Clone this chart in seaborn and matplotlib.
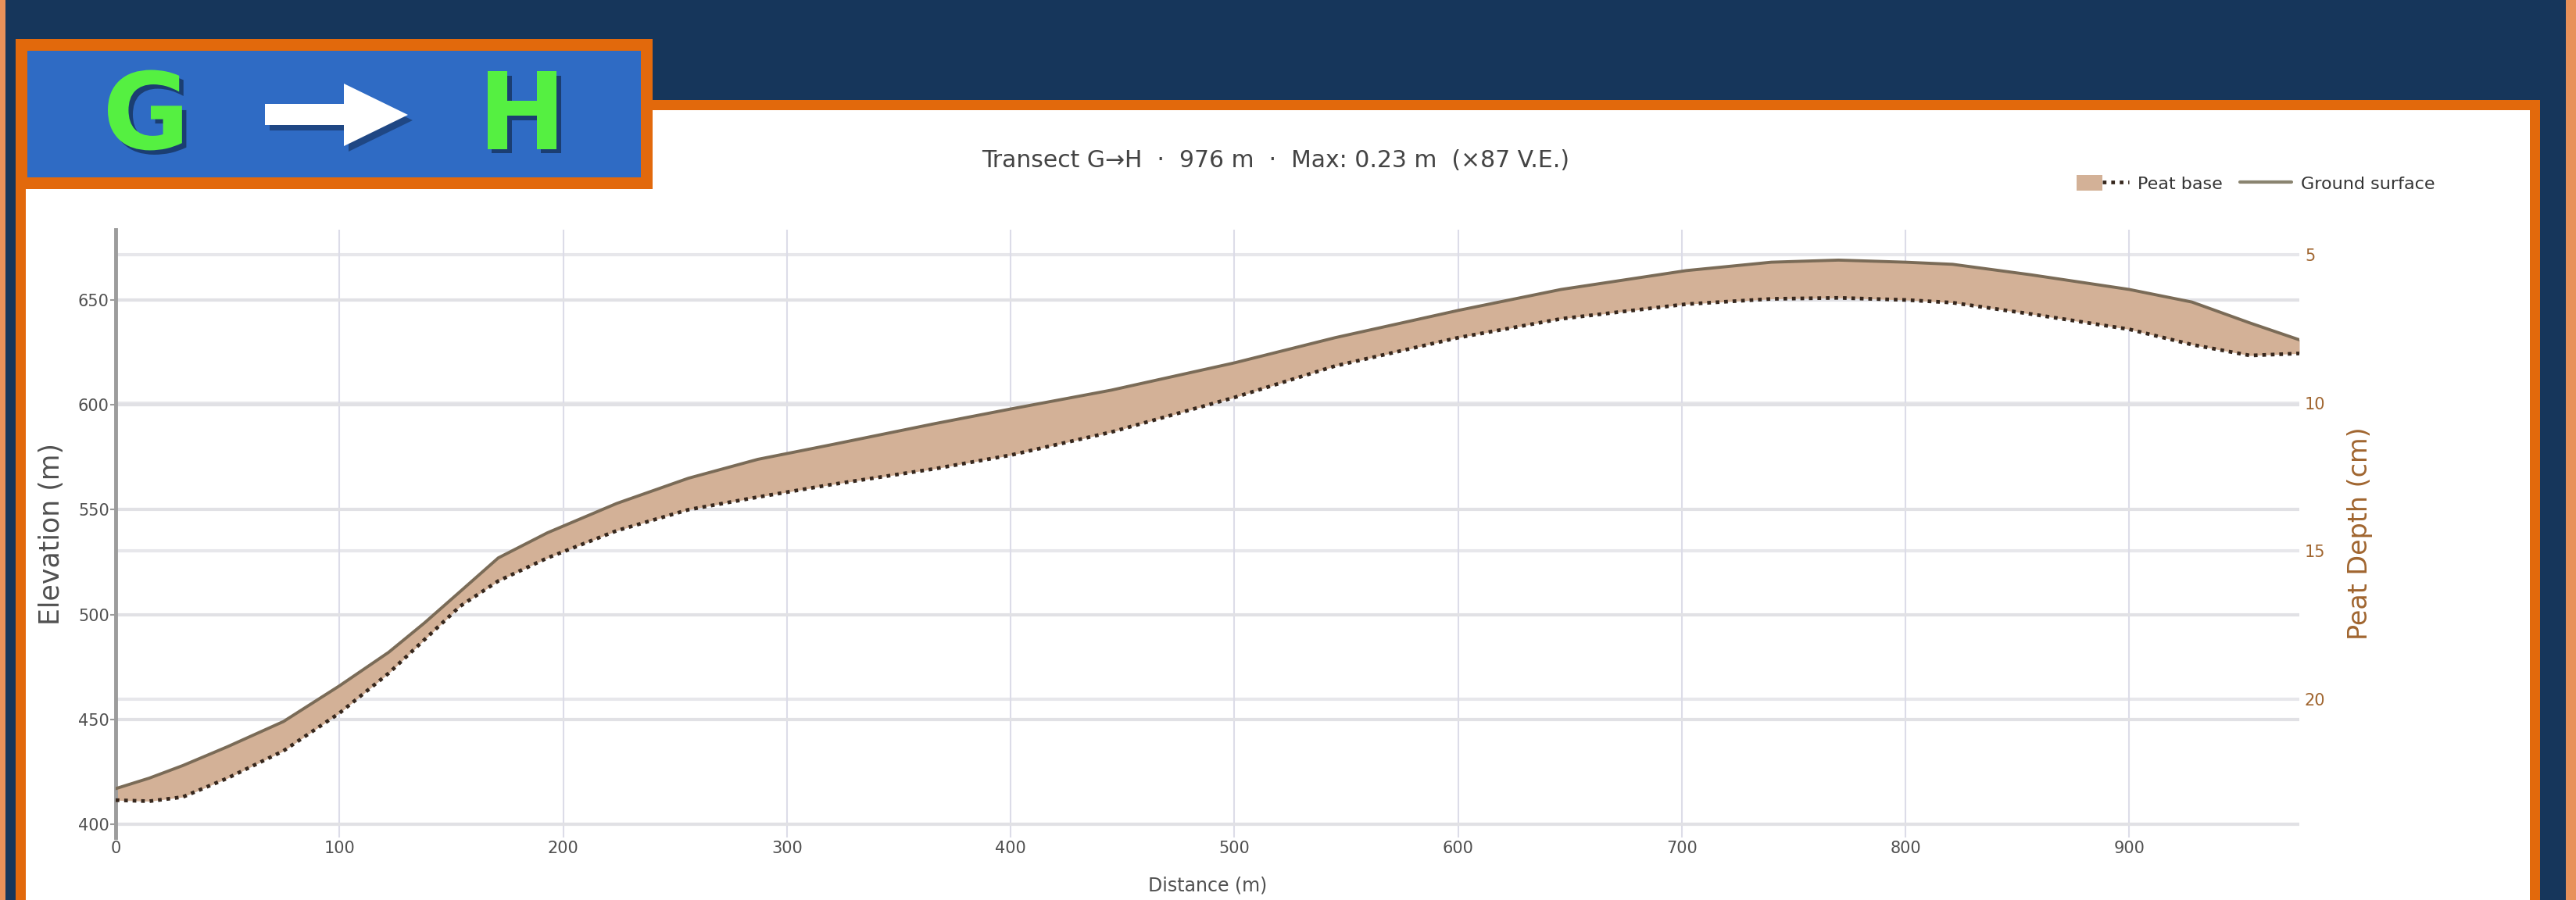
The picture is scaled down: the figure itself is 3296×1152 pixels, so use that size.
import matplotlib
matplotlib.use("Agg")
import matplotlib.pyplot as plt
import matplotlib.patheffects as pe
from matplotlib.patches import Rectangle, Polygon, Patch
from matplotlib.lines import Line2D
from matplotlib.legend_handler import HandlerTuple
import seaborn as sns

# ---- transect profile (distance along G -> H, elevations in metres) ----
distance_m = [0, 15, 30, 50, 75, 100, 122, 138, 154, 171, 193, 224, 256, 287,
              320, 366, 400, 445, 500, 545, 600, 646, 702, 740, 770, 800, 821,
              856, 900, 928, 954, 976]
ground_elev_m = [417, 422, 428, 437, 449, 466, 482, 496, 511, 527, 539, 553,
                 565, 574, 581, 591, 598, 607, 620, 632, 645, 655, 664, 668,
                 669, 668, 667, 662, 655, 649, 639, 631]
peat_base_m = [411.5, 411, 413, 422, 435, 453, 472, 488, 504, 516, 527, 540,
               550, 556, 562, 569.5, 576, 587, 603.5, 618.5, 632, 641, 648,
               650.5, 651, 650, 648.7, 643.3, 636, 628.7, 623.5, 624.5]

dist_ticks = [0, 100, 200, 300, 400, 500, 600, 700, 800, 900]
elev_ticks = [400, 450, 500, 550, 600, 650]
depth_ticks = [5, 10, 15, 20]

dist_range = (0, 976)
elev_range = (393.7, 683.5)
depth_range = (24.67, 4.16)

title_text = "Transect G\u2192H  \u00b7  976 m  \u00b7  Max: 0.23 m  (\u00d787 V.E.)"
start_label, end_label = "G", "H"

# ---- colours ----
NAVY = "#16365b"
ORANGE = "#e2690c"
PALE_ORANGE = "#e8915a"
BOX_BLUE = "#2f6bc4"
LETTER_GREEN = "#55f041"
PLOT_BG = "#f4f4f6"
PEAT_FILL = "#d3b197"
GROUND_LINE = "#7a6b57"
BASE_DOTS = "#36271d"
TEXT_GREY = "#505050"
DEPTH_BROWN = "#a0652f"

sns.set_style("white")
plt.rcParams["font.family"] = ["DejaVu Sans"]

W, H = 3296, 1152
fig = plt.figure(figsize=(W / 100, H / 100), dpi=100, facecolor=NAVY)


def fx(p):
    return p / W


def fy(p):
    return 1 - p / H


def block(x0, y0, x1, y1, color, z):
    fig.add_artist(Rectangle((fx(x0), fy(y1)), fx(x1) - fx(x0), fy(y0) - fy(y1),
                             transform=fig.transFigure, facecolor=color,
                             edgecolor="none", zorder=z))


# page frame and white card
block(0, 0, 7, H, PALE_ORANGE, -10)
block(3283, 0, W, H, PALE_ORANGE, -10)
block(20, 128, 3250, H + 10, ORANGE, -9)
block(33, 141, 3237, H + 10, "white", -8)

# transect badge
block(20, 50, 835, 242, ORANGE, -7)
block(35, 65, 820, 227, BOX_BLUE, -6)

shadow = [pe.withSimplePatchShadow(offset=(4, -4), shadow_rgbFace="#17335e", alpha=0.8)]
for label, cx in ((start_label, 187), (end_label, 668)):
    fig.text(fx(cx), fy(153), label, ha="center", va="center", fontsize=98,
             fontweight="bold", color=LETTER_GREEN, path_effects=shadow, zorder=5)

arrow_px = [(339, 133), (440, 133), (440, 107), (522, 147), (440, 187), (440, 160), (339, 160)]
fig.add_artist(Polygon([(fx(x + 6), fy(y + 7)) for x, y in arrow_px], closed=True,
                       transform=fig.transFigure, facecolor="#1c3f74",
                       edgecolor="none", alpha=0.8, zorder=4))
fig.add_artist(Polygon([(fx(x), fy(y)) for x, y in arrow_px], closed=True,
                       transform=fig.transFigure, facecolor="white",
                       edgecolor="none", zorder=5))

# chart title
fig.text(fx(1632), fy(205), title_text, ha="center", va="center",
         fontsize=21.5, color="#444444")

# ---- axes ----
ax = fig.add_axes([fx(148), fy(1072), fx(2942) - fx(148), (1072 - 294) / H])
ax2 = ax.twinx()
ax.set_zorder(2)
ax2.set_zorder(1)
ax.patch.set_visible(False)
ax2.patch.set_facecolor(PLOT_BG)

ax.fill_between(distance_m, peat_base_m, ground_elev_m, color=PEAT_FILL,
                linewidth=0, zorder=2)
sns.lineplot(x=distance_m, y=ground_elev_m, ax=ax, color=GROUND_LINE,
             linewidth=2.8, zorder=3)
sns.lineplot(x=distance_m, y=peat_base_m, ax=ax, color=BASE_DOTS,
             linewidth=3.4, linestyle=(0, (1, 1.3)), zorder=4)

ax.set_xlim(*dist_range)
ax.set_ylim(*elev_range)
ax2.set_ylim(*depth_range)
ax.set_xticks(dist_ticks)
ax.set_yticks(elev_ticks)
ax2.set_yticks(depth_ticks)

ax.set_axisbelow(True)
ax.grid(axis="y", color="#e1e1e5", linewidth=3)
ax.grid(axis="x", color="#dcdce8", linewidth=1.5)
ax2.grid(axis="y", color="#e7e7eb", linewidth=3)
ax2.grid(axis="x", visible=False)

for s in ax.spines.values():
    s.set_visible(False)
for s in ax2.spines.values():
    s.set_visible(False)
ax.spines["left"].set_visible(True)
ax.spines["left"].set_color("#9c9c9c")
ax.spines["left"].set_linewidth(3.5)

ax.tick_params(axis="x", length=0, pad=3, labelsize=15, labelcolor=TEXT_GREY)
ax.tick_params(axis="y", length=5, width=1.5, color="#9c9c9c", pad=1,
               labelsize=15, labelcolor=TEXT_GREY)
ax2.tick_params(axis="y", length=0, pad=5, labelsize=15, labelcolor=DEPTH_BROWN)

ax.set_ylabel("Elevation (m)", fontsize=25, color=TEXT_GREY, va="center")
ax.yaxis.set_label_coords((66 - 148) / 2794, 0.5)
ax2.set_ylabel("Peat Depth (cm)", fontsize=24, color=DEPTH_BROWN, va="center",
               rotation=90)
ax2.yaxis.set_label_coords((3020 - 148) / 2794, 0.5)
ax.set_xlabel("Distance (m)", fontsize=17, color=TEXT_GREY, va="center")
ax.xaxis.set_label_coords(0.5, (1072 - 1134) / 778)

# legend
peat_handle = (Patch(facecolor=PEAT_FILL, edgecolor="none"),
               Line2D([], [], color=BASE_DOTS, linewidth=3.4, linestyle=(0, (1, 1.3))))
ground_handle = Line2D([], [], color="#8a8470", linewidth=3)
fig.legend([peat_handle, ground_handle], ["Peat base", "Ground surface"],
           handler_map={tuple: HandlerTuple(ndivide=None)},
           loc="center right", bbox_to_anchor=(fx(3115), fy(235)), ncol=2,
           frameon=False, fontsize=16, labelcolor="#333333",
           handlelength=3.0, handleheight=1.0, handletextpad=0.5,
           columnspacing=1.0, borderaxespad=0, borderpad=0)

fig.savefig("out.png", dpi=100, facecolor=fig.get_facecolor())
